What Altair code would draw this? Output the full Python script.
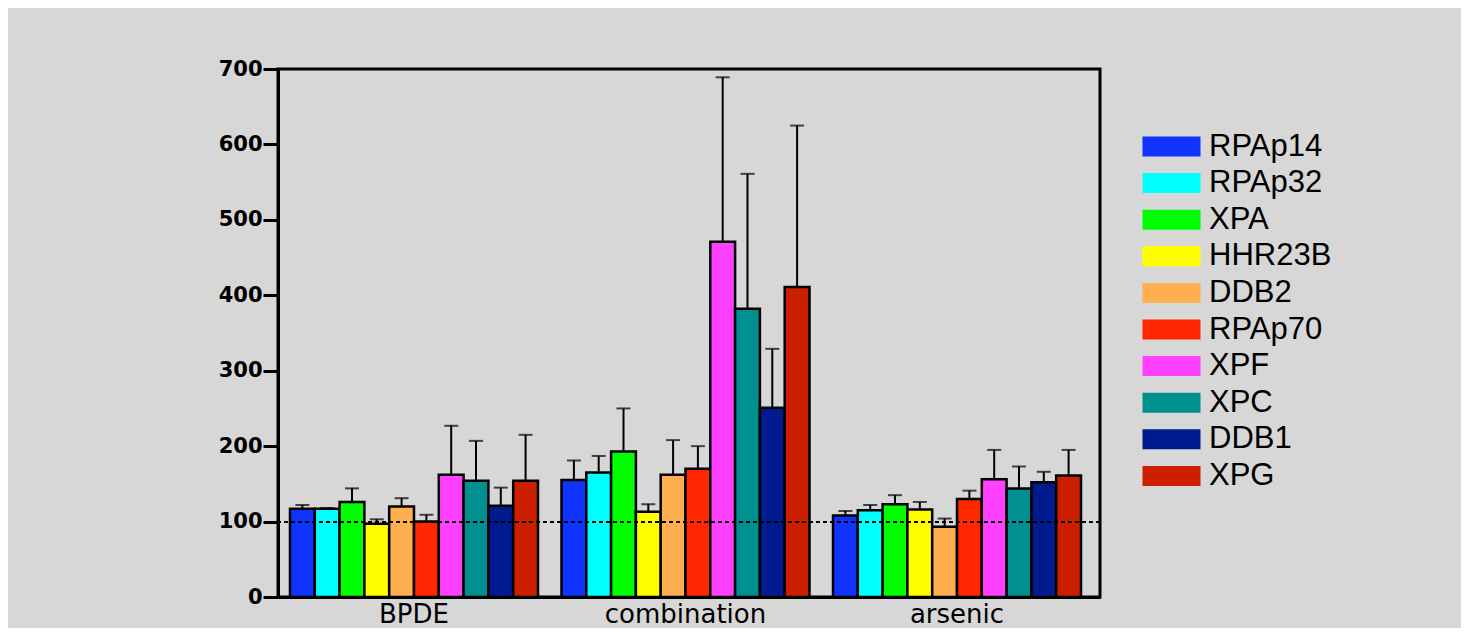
import altair as alt
import pandas as pd

genes = ["RPAp14", "RPAp32", "XPA", "HHR23B", "DDB2", "RPAp70", "XPF", "XPC", "DDB1", "XPG"]
groups = ["BPDE", "combination", "arsenic"]
colors = ["#1033ff", "#00ffff", "#00ff00", "#ffff00", "#ffae50",
          "#ff2600", "#ff40ff", "#009090", "#001a90", "#cc1f00"]

bpde_mean = [117, 117, 126, 97, 120, 100, 162, 154, 121, 154]
bpde_top = [122, 118, 144, 103, 131, 109, 227, 207, 145, 215]
comb_mean = [155, 165, 193, 113, 162, 170, 471, 382, 251, 411]
comb_top = [181, 187, 250, 123, 208, 200, 689, 561, 329, 625]
ars_mean = [108, 115, 123, 116, 93, 130, 156, 144, 152, 161]
ars_top = [114, 122, 135, 126, 104, 141, 195, 173, 166, 195]

rows = []
for g, means, tops in [("BPDE", bpde_mean, bpde_top),
                       ("combination", comb_mean, comb_top),
                       ("arsenic", ars_mean, ars_top)]:
    for gene, m, t in zip(genes, means, tops):
        rows.append({"group": g, "gene": gene, "mean": m, "top": t})
df = pd.DataFrame(rows)

x_scale = alt.Scale(paddingInner=0.0866, paddingOuter=0.0571, align=0.387)
x_enc = alt.X("group:N", sort=groups, title=None, scale=x_scale,
              axis=alt.Axis(labelAngle=0, ticks=False, domainWidth=3, domainColor="black",
                            labelFont="DejaVu Sans", labelFontSize=26, labelColor="black",
                            labelAlign="center", labelBaseline="alphabetic", labelPadding=25))
xoff = alt.XOffset("gene:N", sort=genes, scale=alt.Scale(paddingInner=0, paddingOuter=0))
y_scale = alt.Scale(domain=[0, 700], nice=False)

base = alt.Chart(df)

bars = base.mark_bar(stroke="black", strokeWidth=2.5, opacity=1).encode(
    x=x_enc,
    xOffset=xoff,
    y=alt.Y("mean:Q", scale=y_scale, title=None,
            axis=alt.Axis(values=[0, 100, 200, 300, 400, 500, 600, 700], tickSize=15,
                          tickWidth=3, tickColor="black", domainWidth=3, domainColor="black",
                          labelFont="DejaVu Sans", labelFontWeight="bold",
                          labelFontSize=21, labelColor="black", labelPadding=1, grid=False)),
    color=alt.Color("gene:N", sort=genes,
                    scale=alt.Scale(domain=genes, range=colors),
                    legend=alt.Legend(title=None, orient="none", legendX=878, legendY=62,
                                      symbolType="M-2.9,-1H2.9V1H-2.9Z", symbolSize=400,
                                      symbolStrokeWidth=0, symbolOpacity=1,
                                      labelFont="Liberation Sans", labelFontSize=31,
                                      labelColor="black", labelOffset=22, rowPadding=4.6,
                                      labelLimit=300)),
)

err = base.mark_rule(color="black", strokeWidth=2).encode(
    x=alt.X("group:N", sort=groups, scale=x_scale),
    xOffset=xoff,
    y=alt.Y("mean:Q", scale=y_scale),
    y2="top:Q",
)

caps = base.mark_tick(color="black", thickness=2, size=14, orient="horizontal").encode(
    x=alt.X("group:N", sort=groups, scale=x_scale),
    xOffset=xoff,
    y=alt.Y("top:Q", scale=y_scale),
)

ref = alt.Chart(df).mark_rule(color="black", strokeWidth=1.2, strokeDash=[4, 3]).encode(
    y=alt.datum(100)
)

chart = alt.layer(err, caps, bars, ref).properties(
    width=822, height=528,
    autosize=alt.AutoSizeParams(type="none"),
    padding={"left": 270, "top": 61, "right": 361, "bottom": 31},
    background="#d7d7d7",
).configure_view(stroke="black", strokeWidth=3, fill="#d7d7d7")

chart.save("out.html", embed_options={"renderer": "svg", "actions": False})
